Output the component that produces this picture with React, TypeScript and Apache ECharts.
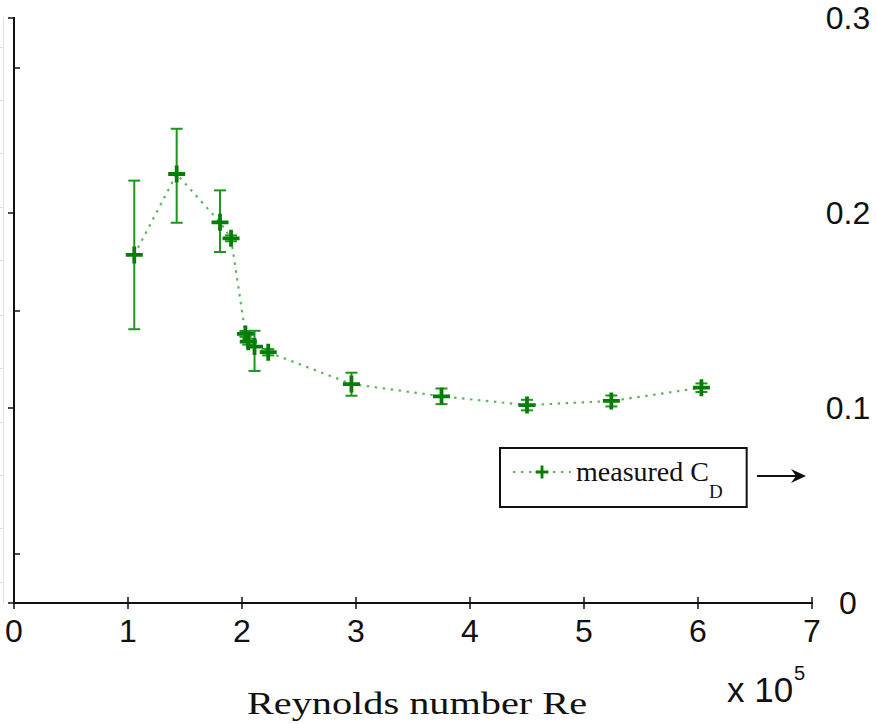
import React, { useEffect, useRef } from "react";
import * as echarts from "echarts";

// Reynolds number (x 10^5) and measured drag coefficient
const reynolds = [1.055, 1.427, 1.807, 1.904, 2.03, 2.055, 2.11, 2.23, 2.96, 3.75, 4.5, 5.24, 6.03];
const cd = [0.1785, 0.22, 0.1952, 0.187, 0.138, 0.134, 0.1315, 0.1286, 0.1123, 0.106, 0.1015, 0.1036, 0.1104];
const cdLow = [0.1404, 0.195, 0.18, 0.1855, 0.1365, 0.1325, 0.119, 0.127, 0.1063, 0.102, 0.0988, 0.1008, 0.1082];
const cdHigh = [0.2166, 0.2432, 0.2116, 0.1885, 0.1395, 0.1355, 0.1396, 0.1302, 0.1181, 0.11, 0.1042, 0.1064, 0.1126];
const xTicks = [0, 1, 2, 3, 4, 5, 6, 7];
const yTicks = [0, 0.1, 0.2, 0.3];
const leftTicks = [0.0251, 0.1497, 0.2744];
const edgeTicks = [0.0108, 0.0385, 0.0656, 0.0928, 0.1205, 0.1477, 0.1759, 0.2031, 0.2308, 0.2579, 0.2851];

const plusPath = "path://M7,0H11V7H18V11H11V18H7V11H0V7H7Z";

export default function App() {
  const ref = useRef<HTMLDivElement>(null);
  useEffect(() => {
    const chart = echarts.init(ref.current!, null, { renderer: "svg" });
    const lineData = reynolds.map((x, i) => [x, cd[i]]);
    const errData = reynolds.map((x, i) => [x, cdLow[i], cdHigh[i]]);
    const axisColor = "#111";
    chart.setOption({
      animation: false,
      backgroundColor: "#fff",
      grid: { left: 14, right: 64, top: 18, bottom: 121, containLabel: false },
      xAxis: [
        {
          type: "value",
          position: "bottom",
          min: xTicks[0],
          max: xTicks[xTicks.length - 1],
          interval: 1,
          axisLine: { show: true, lineStyle: { color: axisColor, width: 2 } },
          axisTick: { show: true, inside: true, length: 6, lineStyle: { color: axisColor, width: 1.5 } },
          axisLabel: { color: "#111", fontFamily: "Liberation Sans", fontSize: 32, margin: 12 },
          splitLine: { show: false },
        },
        {
          type: "value",
          position: "top",
          min: xTicks[0],
          max: xTicks[xTicks.length - 1],
          interval: 1,
          axisLine: { show: true, lineStyle: { color: axisColor, width: 2 } },
          axisTick: { show: true, inside: true, length: 6, lineStyle: { color: axisColor, width: 1.5 } },
          axisLabel: { show: false },
          splitLine: { show: false },
        },
      ],
      yAxis: [
        {
          type: "value",
          position: "right",
          min: yTicks[0],
          max: yTicks[yTicks.length - 1],
          interval: 0.1,
          axisLine: { show: true, lineStyle: { color: axisColor, width: 2 } },
          axisTick: { show: true, inside: true, length: 6, lineStyle: { color: axisColor, width: 1.5 } },
          axisLabel: { color: "#111", fontFamily: "Liberation Sans", fontSize: 32, margin: 36, align: "center" },
          splitLine: { show: false },
        },
        {
          type: "value",
          position: "left",
          min: 0,
          max: 0.3,
          axisLine: { show: true, lineStyle: { color: axisColor, width: 2 } },
          axisTick: { show: true, inside: true, length: 6, customValues: leftTicks, lineStyle: { color: axisColor, width: 1.5 } },
          axisLabel: { show: false },
          splitLine: { show: false },
        },
        {
          type: "value",
          position: "left",
          offset: 11,
          min: 0,
          max: 0.3,
          axisLine: { show: true, lineStyle: { color: "#e2e2e2", width: 1 } },
          axisTick: { show: true, inside: false, length: 3, customValues: edgeTicks, lineStyle: { color: "#dcdcdc", width: 1 } },
          axisLabel: { show: false },
          splitLine: { show: false },
        },
      ],
      legend: {
        left: 500,
        top: 448,
        orient: "horizontal",
        data: ["measured CD"],
        borderColor: "#111",
        borderWidth: 2,
        borderRadius: 0,
        padding: [9, 24, 6, 12],
        itemWidth: 58,
        itemHeight: 16,
        itemGap: 10,
        formatter: () => "{a|measured C}{b|D}",
        textStyle: {
          color: "#111",
          fontFamily: "Liberation Serif",
          rich: {
            a: { fontFamily: "Liberation Serif", fontSize: 28, lineHeight: 30, verticalAlign: "top", color: "#111" },
            b: { fontFamily: "Liberation Serif", fontSize: 19, lineHeight: 16, padding: [25, 0, 0, 0], verticalAlign: "top", color: "#111" },
          },
        },
      },
      series: [
        {
          type: "custom",
          name: "error",
          xAxisIndex: 0,
          yAxisIndex: 0,
          data: errData,
          encode: { x: 0, y: [1, 2] },
          z: 2,
          renderItem: (params: any, api: any) => {
            const x = api.value(0);
            const lo = api.coord([x, api.value(1)]);
            const hi = api.coord([x, api.value(2)]);
            const cap = 6;
            const st = { stroke: "#1e961e", lineWidth: 2 };
            return {
              type: "group",
              children: [
                { type: "line", shape: { x1: lo[0], y1: lo[1], x2: hi[0], y2: hi[1] }, style: st },
                { type: "line", shape: { x1: lo[0] - cap, y1: lo[1], x2: lo[0] + cap, y2: lo[1] }, style: st },
                { type: "line", shape: { x1: hi[0] - cap, y1: hi[1], x2: hi[0] + cap, y2: hi[1] }, style: st },
              ],
            };
          },
        },
        {
          type: "line",
          name: "measured CD",
          xAxisIndex: 0,
          yAxisIndex: 0,
          data: lineData,
          symbol: plusPath,
          symbolSize: 17,
          showAllSymbol: true,
          itemStyle: { color: "#067d06" },
          lineStyle: { color: "#5cb85c", width: 2.2, type: [2.5, 5.5] },
          z: 3,
        },
      ],
      graphic: [
        {
          type: "text",
          x: 417,
          y: 704,
          scaleX: 1.3,
          style: {
            text: "Reynolds number Re",
            align: "center",
            verticalAlign: "middle",
            fontFamily: "Liberation Serif",
            fontSize: 31,
            fill: "#111",
          },
        },
        {
          type: "line",
          shape: { x1: 757, y1: 476, x2: 797, y2: 476 },
          style: { stroke: "#111", lineWidth: 2 },
        },
        {
          type: "polygon",
          shape: { points: [[806, 476], [791, 469], [796, 476], [791, 483]] },
          style: { fill: "#111" },
        },
        {
          type: "text",
          x: 727,
          y: 689,
          style: {
            text: "x 10",
            verticalAlign: "middle",
            fontFamily: "Liberation Sans",
            fontSize: 35,
            fill: "#111",
          },
        },
        {
          type: "text",
          x: 794,
          y: 673,
          style: {
            text: "5",
            verticalAlign: "middle",
            fontFamily: "Liberation Sans",
            fontSize: 20,
            fill: "#111",
          },
        },
      ],
    });
    return () => chart.dispose();
  }, []);
  return <div ref={ref} style={{ position: "fixed", left: 0, top: 0, width: 876, height: 724 }} />;
}
